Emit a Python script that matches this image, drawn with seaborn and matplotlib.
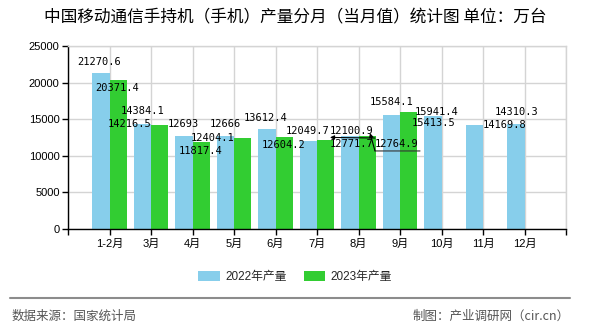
import matplotlib
matplotlib.use("Agg")
import matplotlib.pyplot as plt
import matplotlib.transforms as mtrans
from matplotlib.lines import Line2D
import seaborn as sns
import pandas as pd
import numpy as np

# ---------------- data ----------------
months = ["1-2月", "3月", "4月", "5月", "6月", "7月", "8月", "9月", "10月", "11月", "12月"]
prod_2022 = [21270.6, 14384.1, 12693, 12666, 13612.4, 12049.7, 12771.7, 15584.1, 15413.5, 14169.8, 14310.3]
prod_2023 = [20371.4, 14216.5, 11817.4, 12404.1, 12604.2, 12100.9, 12764.9, 15941.4]
series = ["2022年产量", "2023年产量"]
yticks = [0, 5000, 10000, 15000, 20000, 25000]
title = "中国移动通信手持机（手机）产量分月（当月值）统计图 单位：万台"
source_text = "数据来源：国家统计局"
maker_text = "制图：产业调研网（cir.cn）"

rows = []
for m, v in zip(months, prod_2022):
    rows.append({"月份": m, "系列": series[0], "产量": v})
for m, v in zip(months, prod_2023):
    rows.append({"月份": m, "系列": series[1], "产量": v})
df = pd.DataFrame(rows)

# ---------------- style ----------------
sns.set_theme(style="white")
CJK = "Noto Sans CJK SC"
plt.rcParams["font.family"] = ["Liberation Sans", CJK, "DejaVu Sans"]

colors = {series[0]: "#87CEEB", series[1]: "#32CD32"}

fig = plt.figure(figsize=(5.9, 3.3), dpi=100)
ax = fig.add_axes([68 / 590, 1 - 229 / 330, (566 - 68) / 590, (229 - 46) / 330])

sns.barplot(data=df, x="月份", y="产量", hue="系列", order=months, hue_order=series,
            palette=colors, width=0.82, gap=0, saturation=1, errorbar=None,
            edgecolor="none", linewidth=0, ax=ax, legend=True, zorder=2)

ax.set_xlim(-1, 11)
ax.set_ylim(0, 25000)
ax.set_yticks(yticks)
ax.set_yticklabels([str(t) for t in yticks])
ax.set_xticks(range(-1, 12))
ax.set_xticklabels([""] + months + [""])
ax.set_xlabel("")
ax.set_ylabel("")

ax.grid(True, color="#d4d4d4", linewidth=1, zorder=0)
ax.set_axisbelow(True)
for side in ("left", "bottom"):
    ax.spines[side].set_color("black")
    ax.spines[side].set_linewidth(1)
for side in ("top", "right"):
    ax.spines[side].set_color("#d4d4d4")
    ax.spines[side].set_linewidth(1)
ax.tick_params(axis="both", which="major", direction="out", length=4, width=1,
               color="black", labelsize=8, labelcolor="black", pad=2)
ax.tick_params(axis="y", left=True)
ax.tick_params(axis="x", bottom=True, pad=3)

# ---------------- labels ----------------
# offsets in image pixels (dx right, dy down) of label centres from bar-top centres
off_2022 = [(-1.5, -11), (0, -12.7), (-0.5, -12), (-0.5, -12.3), (-1.5, -11.4), (-0.5, -10),
            (2, 8.5), (0.5, -13), (1, 7), (30.5, 0), (1, -12)]
off_2023 = [(-1, 8), (-30, -1), (0, 8.5), (-29.5, 0), (0, 8), (26.5, -9.4), (30, 8.4), (28.5, 0)]
offsets = [off_2022, off_2023]
values = [prod_2022, prod_2023]

mono = dict(family="DejaVu Sans Mono", fontsize=7.5, color="black")


def px_trans(dx, dy):
    return mtrans.offset_copy(ax.transData, fig=fig, x=dx, y=-dy, units="dots")


bar_tops = [{}, {}]
for si, cont in enumerate(ax.containers[:2]):
    for bar in cont:
        h = bar.get_height()
        if h is None or np.isnan(h):
            continue
        xc = bar.get_x() + bar.get_width() / 2
        idx = int(round(xc))
        bar_tops[si][idx] = (xc, h)

for si in range(2):
    for i, v in enumerate(values[si]):
        if i not in bar_tops[si]:
            continue
        xc, h = bar_tops[si][i]
        dx, dy = offsets[si][i]
        txt = f"{v:g}" if float(v).is_integer() is False else f"{int(v)}"
        ax.text(xc, h, txt, transform=px_trans(dx, dy), ha="center", va="center",
                zorder=5, **mono)

# leader lines for the displaced July / August 2023 labels
xc7, h7 = bar_tops[1][5]
ax.add_line(Line2D([xc7, xc7], [h7, h7], transform=px_trans(0, 0)))
ax.annotate("", xy=(xc7, h7), xycoords=px_trans(4.5, -3),
            xytext=(xc7, h7), textcoords=px_trans(49.5, -2.4),
            arrowprops=dict(arrowstyle="-|>", color="black", lw=0.8,
                            mutation_scale=6, shrinkA=0, shrinkB=0), zorder=6)
xc8, h8 = bar_tops[1][6]
ax.plot([xc8, xc8, xc8], [h8, h8, h8], color="#333333", lw=0.8, zorder=6,
        transform=px_trans(0, 0), alpha=0)
for (a, b) in [((53, 15.4), (8, 15.4))]:
    ax.annotate("", xy=(xc8, h8), xycoords=px_trans(*b),
                xytext=(xc8, h8), textcoords=px_trans(*a),
                arrowprops=dict(arrowstyle="-", color="#333333", lw=0.8,
                                shrinkA=0, shrinkB=0), zorder=6)
ax.annotate("", xy=(xc8, h8), xycoords=px_trans(3, -2.5),
            xytext=(xc8, h8), textcoords=px_trans(8, 15.4),
            arrowprops=dict(arrowstyle="-|>", color="black", lw=0.8,
                            mutation_scale=6, shrinkA=0, shrinkB=0), zorder=6)

# ---------------- legend ----------------
handles, labels = ax.get_legend_handles_labels()
ax.get_legend().remove()
fig.legend(handles, labels, loc="center", bbox_to_anchor=(0.5, 1 - 277 / 330),
           ncol=2, frameon=False, fontsize=8.5, handlelength=1.86, handleheight=0.85,
           handletextpad=0.42, columnspacing=1.44, borderaxespad=0, borderpad=0)

# ---------------- title & footer ----------------
fig.text(0.5, 1 - 18 / 330, title, ha="center", va="center", fontsize=12,
         family=[CJK, "DejaVu Sans"], color="black")
fig.add_artist(Line2D([10 / 590, 570 / 590], [1 - 298 / 330, 1 - 298 / 330],
                      transform=fig.transFigure, color="#8c8c8c", lw=1.5))
fig.text(12 / 590, 1 - 316 / 330, source_text, ha="left", va="center", fontsize=9,
         family=[CJK, "DejaVu Sans"], color="#555555")
fig.text(570 / 590, 1 - 316 / 330, maker_text, ha="right", va="center", fontsize=9,
         family=[CJK, "DejaVu Sans"], color="#555555")

fig.savefig("out.png", dpi=100, facecolor="white")
